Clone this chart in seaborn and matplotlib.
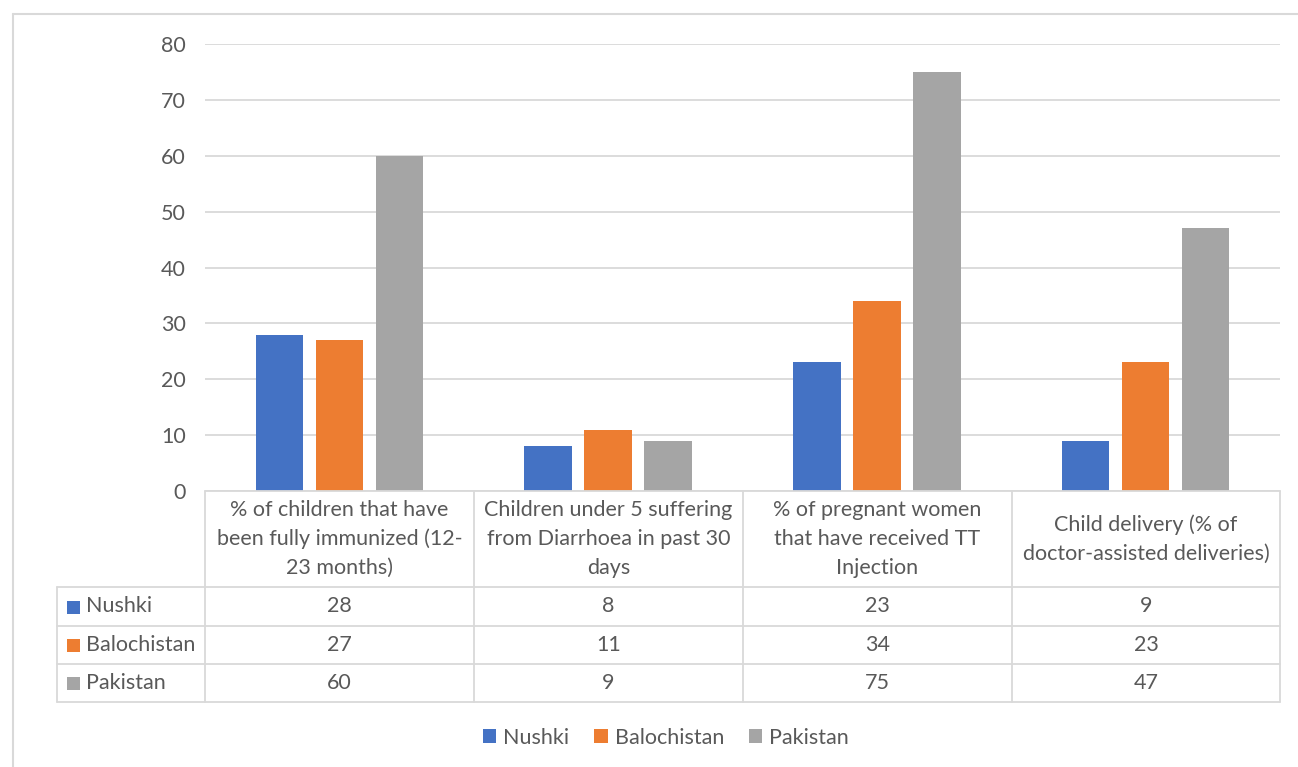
import matplotlib
matplotlib.use("Agg")
import matplotlib.pyplot as plt
from matplotlib.lines import Line2D
from matplotlib.patches import Rectangle
import seaborn as sns
import pandas as pd

# Indicator categories (wrapped as they appear in the table header)
categories = [
    "% of children that have\nbeen fully immunized (12-\n23 months)",
    "Children under 5 suffering\nfrom Diarrhoea in past 30\ndays",
    "% of pregnant women\nthat have received TT\nInjection",
    "Child delivery (% of\ndoctor-assisted deliveries)",
]
series = ["Nushki", "Balochistan", "Pakistan"]
nushki = [28, 8, 23, 9]
balochistan = [27, 11, 34, 23]
pakistan = [60, 9, 75, 47]
yticks = [0, 10, 20, 30, 40, 50, 60, 70, 80]
colors = ["#4472C4", "#ED7D31", "#A5A5A5"]

values = {"Nushki": nushki, "Balochistan": balochistan, "Pakistan": pakistan}
df = pd.DataFrame(
    [(c, s, v) for s in series for c, v in zip(categories, values[s])],
    columns=["category", "series", "value"],
)

sns.set_theme(style="white")
FONT = ["Lato", "DejaVu Sans"]
plt.rcParams["font.family"] = FONT
TXT = "#595959"
GRID = "#d9d9d9"
FS = 15.5

W, H = 1298, 767
fig = plt.figure(figsize=(W / 100, H / 100), dpi=100)


def fx(x):
    return x / W


def fy(y):
    return 1 - y / H


ax = fig.add_axes([fx(205), fy(491), fx(1280) - fx(205), fy(44) - fy(491)])
sns.barplot(
    data=df, x="category", y="value", hue="series", order=categories,
    hue_order=series, palette=colors, width=0.67, gap=0.21,
    saturation=1, ax=ax, legend=False, zorder=3, linewidth=0,
)
ax.set_ylim(0, 80)
ax.set_xlim(-0.5, len(categories) - 0.5)
ax.set_yticks(yticks)
ax.set_yticklabels([str(t) for t in yticks], fontsize=FS, color=TXT)
ax.tick_params(axis="y", length=0, pad=14)
ax.set_xticks([])
ax.set_xlabel("")
ax.set_ylabel("")
ax.grid(axis="y", color=GRID, linewidth=1.3, zorder=0)
ax.set_axisbelow(True)
for sp in ax.spines.values():
    sp.set_visible(False)

# Outer chart frame
fig.add_artist(Line2D([fx(13), fx(13)], [fy(14), fy(767)], color=GRID, lw=1.5))
fig.add_artist(Line2D([fx(13), fx(1298)], [fy(14), fy(14)], color=GRID, lw=1.5))

# Data table below the axis
col_edges = [205, 474, 743, 1012, 1280]
row_edges = [587, 626, 664, 702]
lw = 1.3
fig.add_artist(Line2D([fx(205), fx(1280)], [fy(491), fy(491)], color=GRID, lw=lw))
for y in row_edges:
    fig.add_artist(Line2D([fx(57), fx(1280)], [fy(y), fy(y)], color=GRID, lw=lw))
fig.add_artist(Line2D([fx(57), fx(57)], [fy(587), fy(702)], color=GRID, lw=lw))
for x in col_edges:
    fig.add_artist(Line2D([fx(x), fx(x)], [fy(491), fy(702)], color=GRID, lw=lw))

for i, cat in enumerate(categories):
    cx = (col_edges[i] + col_edges[i + 1]) / 2
    fig.text(fx(cx), fy(539), cat, ha="center", va="center", fontsize=FS,
             color=TXT, linespacing=1.55)

for r, s in enumerate(series):
    cy = (row_edges[r] + row_edges[r + 1]) / 2
    fig.add_artist(Rectangle((fx(67), fy(cy + 7)), fx(13), 13 / H,
                             color=colors[r], lw=0))
    fig.text(fx(86), fy(cy), s, ha="left", va="center", fontsize=FS, color=TXT)
    for i, v in enumerate(values[s]):
        cx = (col_edges[i] + col_edges[i + 1]) / 2
        fig.text(fx(cx), fy(cy), str(v), ha="center", va="center",
                 fontsize=FS, color=TXT)

# Legend along the bottom
handles = [Rectangle((0, 0), 1, 1, color=c, lw=0) for c in colors]
fig.legend(handles, series, loc="center", bbox_to_anchor=(fx(666), fy(738)),
           ncol=3, frameon=False, fontsize=FS, labelcolor=TXT,
           handlelength=0.62, handleheight=0.62, handletextpad=0.33,
           columnspacing=1.15)

fig.savefig("out.png", dpi=100, facecolor="white")
